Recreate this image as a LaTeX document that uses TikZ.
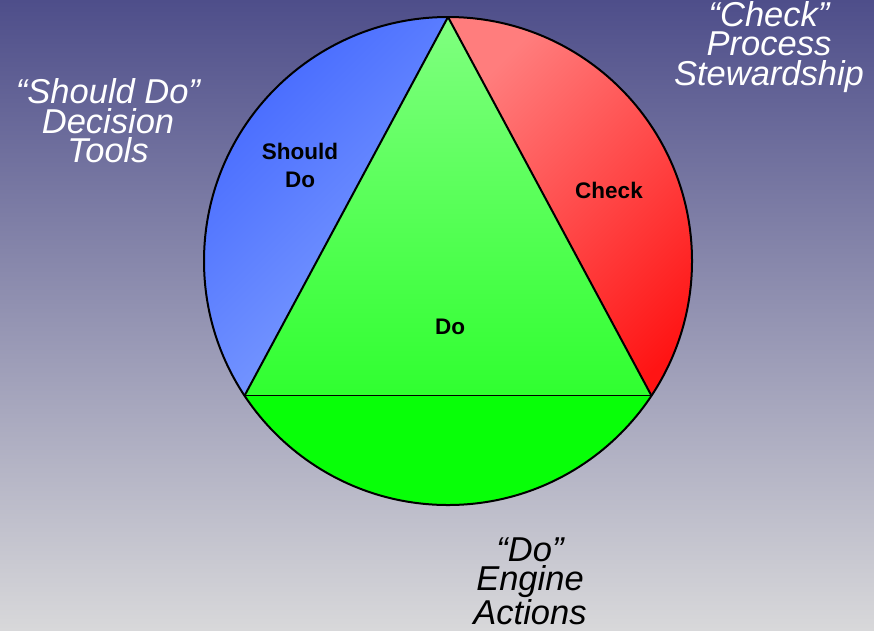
\documentclass[tikz,border=0pt]{standalone}
\usepackage{fontspec}
\setmainfont{Liberation Sans}
\begin{document}
\begin{tikzpicture}[x=1pt,y=1pt,
  outer/.style={font=\itshape\fontsize{34.5}{29.5}\selectfont, align=center, inner sep=0pt},
  inlabel/.style={font=\bfseries\fontsize{22.5}{28}\selectfont, align=center, inner sep=0pt, text=black},
  edge/.style={draw=black, line width=2pt, line cap=round, line join=round}]
\definecolor{bgtop}{RGB}{78,78,138}
\definecolor{bgmid}{RGB}{165,165,188}
\definecolor{bgbot}{RGB}{216,216,218}
\definecolor{blueA}{RGB}{68,104,255}
\definecolor{blueB}{RGB}{130,162,255}
\definecolor{redA}{RGB}{255,125,125}
\definecolor{redB}{RGB}{255,20,20}
\definecolor{greenA}{RGB}{128,255,128}
\definecolor{greenB}{RGB}{48,255,48}
\definecolor{greenC}{RGB}{8,255,8}
\definecolor{baseline}{RGB}{150,190,150}
% background
\shade[top color=bgtop, middle color=bgmid, bottom color=bgbot] (0,0) rectangle (874,-630);
\useasboundingbox (0,0) rectangle (874,-630);
% geometry
\coordinate (C) at (448,-261);
\coordinate (T) at ([shift={(90:244)}]C);
\coordinate (L) at ([shift={(213.5:244)}]C);
\coordinate (R) at ([shift={(326.5:244)}]C);
% left segment (Should Do)
\shade[top color=blueA, bottom color=blueB, shading angle=45]
  (T) arc[start angle=90, end angle=213.5, radius=244pt] -- cycle;
% right segment (Check)
\shade[top color=redA, bottom color=redB, shading angle=45]
  (R) arc[start angle=-33.5, end angle=90, radius=244pt] -- cycle;
% bottom segment (Do)
\fill[greenC] (L) arc[start angle=213.5, end angle=326.5, radius=244pt] -- cycle;
% triangle (Do)
\shade[top color=greenA, bottom color=greenB] (T) -- (L) -- (R) -- cycle;
% outlines
\draw[baseline, line width=1pt] (L) -- (R);
\draw[edge] (L) -- (T) -- (R);
\draw[black, line width=2pt] (C) circle[radius=244pt];
% inner labels
\node[inlabel] (sd) at (300,-165.5) {Should\\Do};
\node[inlabel] (ck) at (609,-190.5) {Check};
\node[inlabel] (dd) at (450,-327) {Do};
% outer labels
\node[outer, text=white] (osd) at (108,-121) {“Should Do”\\Decision\\Tools};
\node[outer, text=white] (ock) at (769,-47) {“Check”\\Process\\Stewardship};
\node[outer, text=black] (odo) at (530,-581) {“Do”\\Engine\\Actions};
\end{tikzpicture}
\end{document}
